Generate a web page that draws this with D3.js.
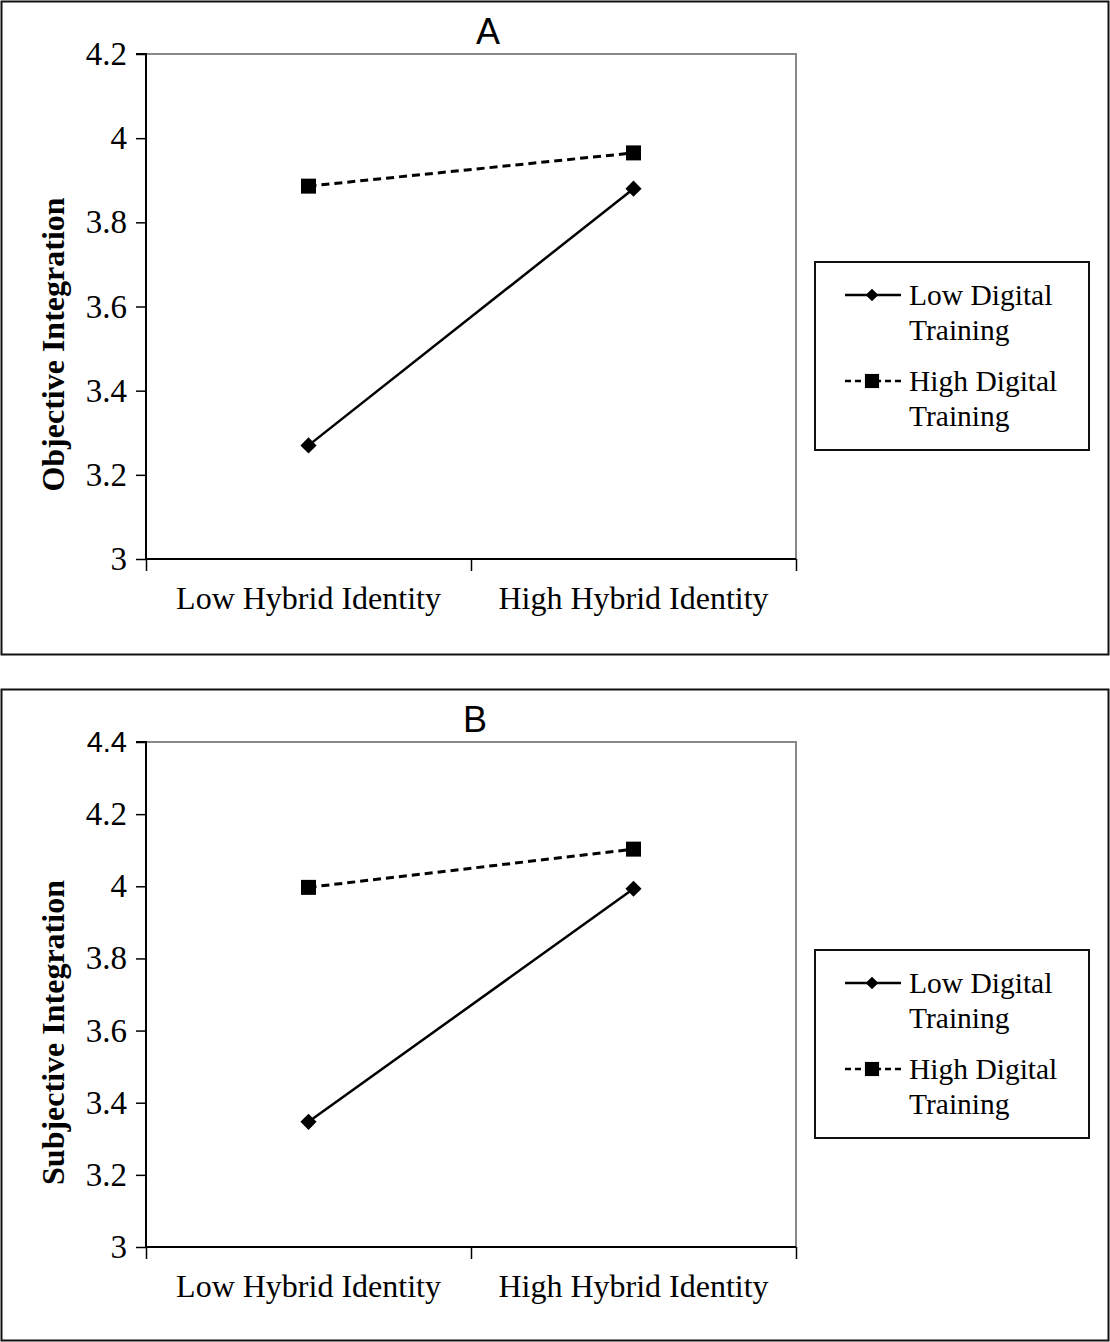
<!DOCTYPE html>
<html>
<head>
<meta charset="utf-8">
<script src="https://cdn.jsdelivr.net/npm/d3@7"></script>
<style>
  body { margin: 0; background: #fff; }
  svg { display: block; }
</style>
</head>
<body>
<svg id="chart" width="1110" height="1342"></svg>
<script>
// categories on the x axis
const hybridLevels = ["Low Hybrid Identity", "High Hybrid Identity"];
const seriesNames = ["Low Digital Training", "High Digital Training"];

// panel A: objective integration
const objLowTraining = [3.27, 3.88];
const objHighTraining = [3.886, 3.965];
const objTicks = [3, 3.2, 3.4, 3.6, 3.8, 4, 4.2];

// panel B: subjective integration
const subjLowTraining = [3.347, 3.993];
const subjHighTraining = [3.997, 4.103];
const subjTicks = [3, 3.2, 3.4, 3.6, 3.8, 4, 4.2, 4.4];

const svg = d3.select("#chart");
const serif = "'Liberation Serif', 'Times New Roman', serif";
const sans = "'Liberation Sans', Arial, sans-serif";

function drawPanel(top, height, letter, letterX, yTitle, yMax, ticks, lowVals, highVals, sansTop) {
  const g = svg.append("g").attr("transform", `translate(0,${top})`);

  // outer frame
  g.append("rect")
    .attr("x", 1.5).attr("y", 1.5)
    .attr("width", 1107).attr("height", height)
    .attr("fill", "none").attr("stroke", "#111").attr("stroke-width", 2);

  g.append("text")
    .attr("x", letterX).attr("y", 44)
    .attr("text-anchor", "middle")
    .style("font-family", sans).style("font-size", "36px")
    .text(letter);

  const left = 146, right = 796, plotTop = 54, plotBottom = 559;

  const x = d3.scalePoint().domain(hybridLevels).range([left, right]).padding(0.5);
  const xEdge = d3.scaleLinear().domain([0, 2]).range([left, right]);
  const y = d3.scaleLinear().domain([3, yMax]).range([plotBottom, plotTop]);

  // grey top / right plot border
  g.append("path")
    .attr("d", `M${left},${plotTop}H${right}V${plotBottom}`)
    .attr("fill", "none").attr("stroke", "#888").attr("stroke-width", 2);

  // y axis
  const yAxis = g.append("g")
    .attr("transform", `translate(${left},0)`)
    .call(d3.axisLeft(y).tickValues(ticks).tickSize(10).tickPadding(9)
      .tickFormat(d => d3.format("~g")(d)));
  yAxis.select(".domain").attr("stroke", "#000").attr("stroke-width", 2)
    .attr("d", `M-10,${plotTop}H0V${plotBottom}`);
  yAxis.selectAll(".tick line").attr("stroke", "#000").attr("stroke-width", 1.5);
  yAxis.selectAll(".tick text")
    .style("font-family", d => (sansTop && d === yMax) ? sans : serif)
    .style("font-size", d => (sansTop && d === yMax) ? "29px" : "33px")
    .attr("fill", "#000");

  // x axis with ticks at category edges
  const xAxis = g.append("g")
    .attr("transform", `translate(0,${plotBottom})`)
    .call(d3.axisBottom(xEdge).tickValues([0, 1, 2]).tickSize(12).tickFormat(""));
  xAxis.select(".domain").attr("stroke", "#000").attr("stroke-width", 2)
    .attr("d", `M${left},0H${right}`);
  xAxis.selectAll(".tick line").attr("stroke", "#000").attr("stroke-width", 1.5);

  g.selectAll(".xlab")
    .data(hybridLevels)
    .join("text")
    .attr("class", "xlab")
    .attr("x", d => x(d)).attr("y", plotBottom + 50)
    .attr("text-anchor", "middle")
    .style("font-family", serif).style("font-size", "32px")
    .text(d => d);

  g.append("text")
    .attr("transform", `translate(64,${(plotTop + plotBottom) / 2 + 38}) rotate(-90)`)
    .attr("text-anchor", "middle")
    .style("font-family", serif).style("font-size", "32px").style("font-weight", "bold")
    .text(yTitle);

  const line = d3.line()
    .x((d, i) => x(hybridLevels[i]))
    .y(d => y(d));

  g.append("path")
    .attr("d", line(highVals))
    .attr("fill", "none").attr("stroke", "#000").attr("stroke-width", 3)
    .attr("stroke-dasharray", "8,5");
  g.append("path")
    .attr("d", line(lowVals))
    .attr("fill", "none").attr("stroke", "#000").attr("stroke-width", 2.5);

  g.selectAll(".sq")
    .data(highVals)
    .join("path")
    .attr("class", "sq")
    .attr("transform", (d, i) => `translate(${x(hybridLevels[i])},${y(d)})`)
    .attr("d", d3.symbol(d3.symbolSquare, 225))
    .attr("fill", "#000");
  g.selectAll(".dm")
    .data(lowVals)
    .join("path")
    .attr("class", "dm")
    .attr("transform", (d, i) => `translate(${x(hybridLevels[i])},${y(d)}) rotate(45)`)
    .attr("d", d3.symbol(d3.symbolSquare, 130))
    .attr("fill", "#000");

  // legend
  const lg = g.append("g").attr("transform", "translate(815,262)");
  lg.append("rect")
    .attr("width", 274).attr("height", 188)
    .attr("fill", "#fff").attr("stroke", "#111").attr("stroke-width", 2);

  const rows = [
    { name: seriesNames[0], y: 33, dash: null, sym: "diamond" },
    { name: seriesNames[1], y: 119, dash: "6,4", sym: "square" }
  ];
  rows.forEach(r => {
    lg.append("line")
      .attr("x1", 30).attr("x2", 86).attr("y1", r.y).attr("y2", r.y)
      .attr("stroke", "#000").attr("stroke-width", 2.5)
      .attr("stroke-dasharray", r.dash);
    if (r.sym === "diamond") {
      lg.append("path")
        .attr("transform", `translate(57,${r.y}) rotate(45)`)
        .attr("d", d3.symbol(d3.symbolSquare, 80)).attr("fill", "#000");
    } else {
      lg.append("path")
        .attr("transform", `translate(57,${r.y})`)
        .attr("d", d3.symbol(d3.symbolSquare, 200)).attr("fill", "#000");
    }
    const words = r.name.split(" ");
    const t = lg.append("text")
      .attr("x", 94).attr("y", r.y + 10)
      .style("font-family", serif).style("font-size", "29.5px");
    t.append("tspan").attr("x", 94).attr("dy", 0).text(words.slice(0, 2).join(" "));
    t.append("tspan").attr("x", 94).attr("dy", 35).text(words[2]);
  });
}

drawPanel(0, 653, "A", 488, "Objective Integration", 4.2, objTicks, objLowTraining, objHighTraining, false);
drawPanel(688, 651, "B", 475, "Subjective Integration", 4.4, subjTicks, subjLowTraining, subjHighTraining, true);
</script>
</body>
</html>
